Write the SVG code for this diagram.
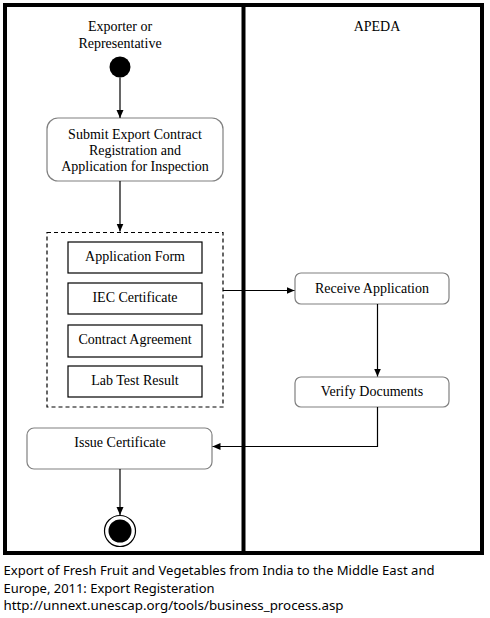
<svg xmlns="http://www.w3.org/2000/svg" width="490" height="618" viewBox="0 0 490 618">
<style>
.t{font-family:"Liberation Serif","Times New Roman",serif;font-size:14px;fill:#000;text-anchor:middle}
.cap{font-family:"Noto Sans","Open Sans",sans-serif;font-size:13px;fill:#000}
.act{fill:#fff;stroke:#808080;stroke-width:1.2}
.doc{fill:#fff;stroke:#000;stroke-width:1.2}
.conn{fill:none;stroke:#000;stroke-width:1.2}
</style>
<defs>
<marker id="ah" markerWidth="8" markerHeight="8" refX="8" refY="4" orient="auto" markerUnits="userSpaceOnUse">
<path d="M0,0.5 L8,4 L0,7.5 Z" fill="#000"/>
</marker>
</defs>
<rect width="490" height="618" fill="#fff"/>
<g id="frame">
<rect x="5" y="5" width="477" height="548" fill="none" stroke="#000" stroke-width="4"/>
<line x1="243.5" y1="5" x2="243.5" y2="553" stroke="#000" stroke-width="4"/>
</g>
<g id="lane-exporter"><text class="t" x="120" y="31">Exporter or</text><text class="t" x="120" y="48">Representative</text></g>
<g id="lane-apeda"><text class="t" x="377" y="31">APEDA</text></g>
<g id="start"><circle cx="120" cy="67" r="10.5" fill="#000"/></g>
<g id="submit">
<rect class="act" x="47" y="118" width="176" height="63" rx="11"/>
<text class="t" x="135" y="139">Submit Export Contract</text>
<text class="t" x="135" y="155">Registration and</text>
<text class="t" x="135" y="171">Application for Inspection</text>
</g>
<g id="documents">
<rect x="47" y="232.5" width="176" height="174.5" fill="none" stroke="#000" stroke-width="1.2" stroke-dasharray="4,3"/>
</g>
<g id="application-form"><rect class="doc" x="68" y="242" width="134" height="31"/><text class="t" x="135" y="261">Application Form</text></g>
<g id="iec-certificate"><rect class="doc" x="68" y="283" width="134" height="31"/><text class="t" x="135" y="302">IEC Certificate</text></g>
<g id="contract-agreement"><rect class="doc" x="68" y="325" width="134" height="32"/><text class="t" x="135" y="344">Contract Agreement</text></g>
<g id="lab-test-result"><rect class="doc" x="68" y="366" width="134" height="31"/><text class="t" x="135" y="385">Lab Test Result</text></g>
<g id="receive"><rect class="act" x="295" y="273" width="154" height="31" rx="6"/><text class="t" x="372" y="293">Receive Application</text></g>
<g id="verify"><rect class="act" x="295" y="377" width="154" height="30" rx="6"/><text class="t" x="372" y="396">Verify Documents</text></g>
<g id="issue"><rect class="act" x="27" y="428" width="185" height="41" rx="7"/><text class="t" x="120" y="447">Issue Certificate</text></g>
<g id="end"><circle cx="120" cy="531" r="15.5" fill="#fff" stroke="#000" stroke-width="1.2"/><circle cx="120" cy="531" r="11.5" fill="#000"/></g>
<g id="connectors">
<line class="conn" x1="120" y1="77.5" x2="120" y2="118" marker-end="url(#ah)"/>
<line class="conn" x1="120" y1="181" x2="120" y2="231.5" marker-end="url(#ah)"/>
<line class="conn" x1="223" y1="290.5" x2="294.5" y2="290.5" marker-end="url(#ah)"/>
<line class="conn" x1="377.5" y1="304" x2="377.5" y2="376.5" marker-end="url(#ah)"/>
<polyline class="conn" points="377.5,407 377.5,446.5 212.5,446.5" marker-end="url(#ah)"/>
<line class="conn" x1="120" y1="469" x2="120" y2="515" marker-end="url(#ah)"/>
</g>
<g id="caption">
<text class="cap" x="3.5" y="575" textLength="431" lengthAdjust="spacingAndGlyphs">Export of Fresh Fruit and Vegetables from India to the Middle East and</text>
<text class="cap" x="3.5" y="593" textLength="211" lengthAdjust="spacingAndGlyphs">Europe, 2011: Export Registeration</text>
<text class="cap" x="3.5" y="610" textLength="340" lengthAdjust="spacingAndGlyphs">http://unnext.unescap.org/tools/business_process.asp</text>
</g>
</svg>
